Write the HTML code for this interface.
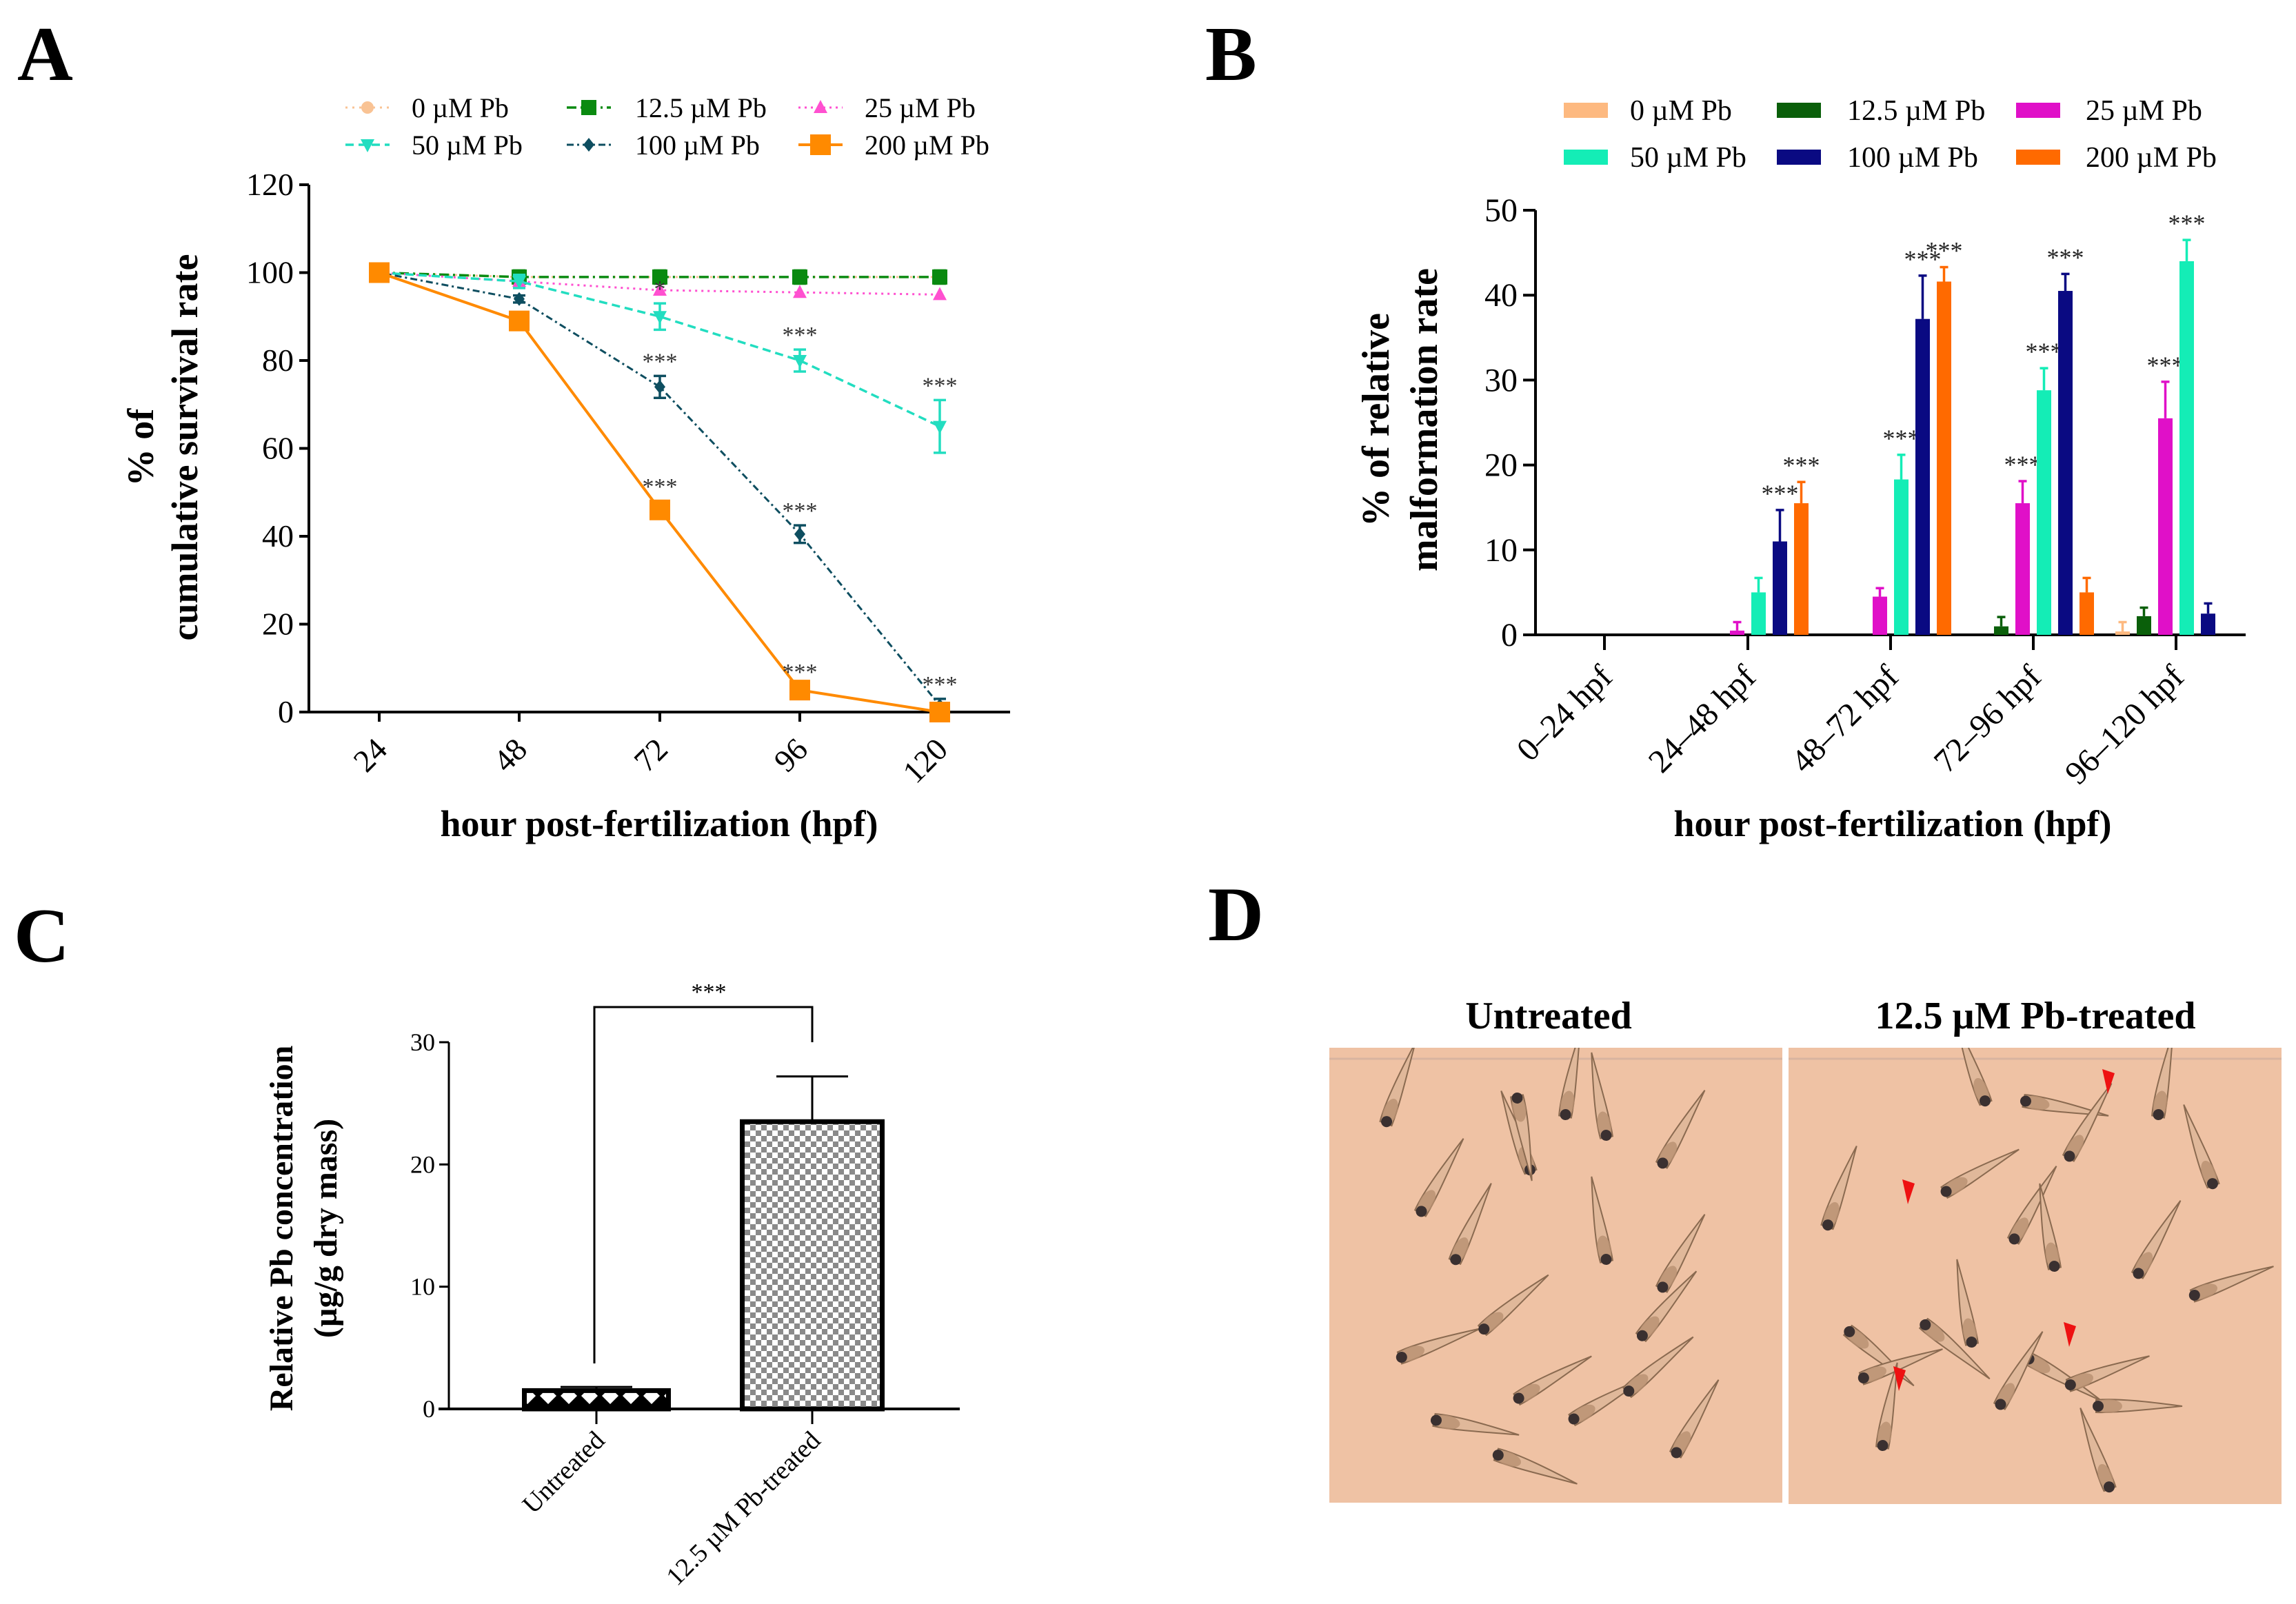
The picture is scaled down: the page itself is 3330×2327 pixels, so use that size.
<!DOCTYPE html>
<html><head><meta charset="utf-8"><style>
html,body{margin:0;padding:0;background:#fff}
svg{display:block}
text{font-family:"Liberation Serif",serif}
</style></head><body>
<svg id="fig" width="3330" height="2327" viewBox="0 0 3330 2327" xmlns="http://www.w3.org/2000/svg">
<defs>
<pattern id="diam" width="30" height="30" patternUnits="userSpaceOnUse"><rect width="30" height="30" fill="#000"/><path d="M15 3 L27 15 L15 27 L3 15Z" fill="#fff"/></pattern>
<pattern id="chk" width="16" height="16" patternUnits="userSpaceOnUse"><rect width="16" height="16" fill="#fff"/><rect width="8" height="8" fill="#8a8a8a"/><rect x="8" y="8" width="8" height="8" fill="#8a8a8a"/></pattern>
<clipPath id="clipL"><rect x="1928" y="1520" width="657" height="660"/></clipPath>
<clipPath id="clipR"><rect x="2594" y="1520" width="715" height="662"/></clipPath>
</defs>
<text x="25" y="116" font-size="112" font-weight="bold">A</text>
<text x="1748" y="116" font-size="112" font-weight="bold">B</text>
<text x="20" y="1395" font-size="112" font-weight="bold">C</text>
<text x="1752" y="1364" font-size="112" font-weight="bold">D</text>
<g id="pA"></g>
<g id="pB"></g>
<g id="pC"></g>
<g id="pD"></g>
</svg>
<script>
const NS="http://www.w3.org/2000/svg";
// ---- Panel A data
const hoursA=["24","48","72","96","120"];
const ticksA=[0,20,40,60,80,100,120];
const surv0=[100,99,99,99,99];
const surv12=[100,99,99,99,99];
const surv25=[100,98,96,95.5,95];
const surv50=[100,98,90,80,65];
const surv100=[100,94,74,40.5,1.5];
const surv200=[100,89,46,5,0];
const err50=[0,1.5,3,2.5,6];
const err100=[0,0.8,2.5,2,1.5];
const err200=[0,1.5,2,0.8,0.5];
const err12=[0,1.5,1.5,1.5,1.5];
const stars50=["","","*","***","***"];
const stars100=["","","***","***","***"];
const stars200=["","","***","***",""];
// ---- Panel B data
const groupsB=["0–24 hpf","24–48 hpf","48–72 hpf","72–96 hpf","96–120 hpf"];
const ticksB=[0,10,20,30,40,50];
const mal0=[0,0,0,0,0.4];
const mal12=[0,0,0,1,2.2];
const mal25=[0,0.5,4.5,15.5,25.5];
const mal50=[0,5,18.3,28.8,44];
const mal100=[0,11,37.2,40.5,2.5];
const mal200=[0,15.5,41.6,5,0];
const malErr0=[0,0,0,0,1.1];
const malErr12=[0,0,0,1.1,1];
const malErr25=[0,1,1,2.6,4.3];
const malErr50=[0,1.7,2.9,2.6,2.5];
const malErr100=[0,3.7,5.1,2,1.2];
const malErr200=[0,2.5,1.7,1.7,0];
const malStars=[[["","","","","",""]],[["","","","","***","***"]],[["","","","***","***","***"]],[["","","***","***","***",""]],[["","","***","***","",""]]];
// ---- Panel C data
const groupsC=["Untreated","12.5 µM Pb-treated"];
const ticksC=[0,10,20,30];
const conc=[1.5,23.5];
const concErr=[0.3,3.7];

function el(tag,attrs,parent,txt){const e=document.createElementNS(NS,tag);for(const k in attrs)e.setAttribute(k,attrs[k]);if(txt!==undefined)e.textContent=txt;parent.appendChild(e);return e;}

// ================= Panel A
(function(){
const g=document.getElementById('pA');
const x0=448,y0=1033,yTop=268,xEnd=1465;
const catX=[550,753,957,1160,1363];
const yA=v=>y0-v*(y0-yTop)/120;
const xA=i=>catX[i];
const ax=el('line',{x1:x0,y1:y0,x2:xEnd,y2:y0,stroke:'#000','stroke-width':4},g);

const ay=el('line',{x1:x0,y1:y0+2,x2:x0,y2:yTop,stroke:'#000','stroke-width':4},g);

ticksA.forEach(t=>{
 el('line',{x1:x0-14,y1:yA(t),x2:x0,y2:yA(t),stroke:'#000','stroke-width':4},g);
 const tl=el('text',{x:x0-22,y:yA(t)+15,'font-size':46,'text-anchor':'end'},g,String(t));
 
});
hoursA.forEach((h,i)=>{
 el('line',{x1:xA(i),y1:y0,x2:xA(i),y2:y0+14,stroke:'#000','stroke-width':4},g);
 const tl=el('text',{x:xA(i)+14,y:1090,'font-size':46,'text-anchor':'end',transform:`rotate(-45 ${xA(i)+14} 1090)`},g,h);
 
});
const xt=el('text',{x:956,y:1213,'font-size':54,'font-weight':'bold','text-anchor':'middle'},g,'hour post-fertilization (hpf)');

const yt=el('text',{transform:'translate(222 649) rotate(-90)','font-size':54,'font-weight':'bold','text-anchor':'middle'},g);

el('tspan',{x:0,y:0},yt,'% of');el('tspan',{x:0,y:64},yt,'cumulative survival rate');

const series=[
 {name:'0 µM Pb',vals:surv0,err:null,stars:null,color:'#F9C394',dash:'3 7',marker:'circle',w:3},
 {name:'12.5 µM Pb',vals:surv12,err:err12,stars:null,color:'#0A8A10',dash:'14 6 3 6',marker:'square',w:3.5},
 {name:'25 µM Pb',vals:surv25,err:null,stars:null,color:'#FF50D0',dash:'3 6',marker:'tri',w:3},
 {name:'50 µM Pb',vals:surv50,err:err50,stars:stars50,color:'#22DDC0',dash:'12 7',marker:'dtri',w:3.5},
 {name:'100 µM Pb',vals:surv100,err:err100,stars:stars100,color:'#0E4E60',dash:'10 5 3 5',marker:'diamond',w:3},
 {name:'200 µM Pb',vals:surv200,err:err200,stars:stars200,color:'#FF8A00',dash:'',marker:'bigsq',w:4}
];
function marker(par,type,x,y,c){
 let m;
 if(type==='circle')m=el('circle',{cx:x,cy:y,r:9,fill:c},par);
 else if(type==='square')m=el('rect',{x:x-11,y:y-11,width:22,height:22,fill:c},par);
 else if(type==='bigsq')m=el('rect',{x:x-15,y:y-15,width:30,height:30,fill:c},par);
 else if(type==='tri')m=el('path',{d:`M${x} ${y-11}L${x+10} ${y+8}L${x-10} ${y+8}Z`,fill:c},par);
 else if(type==='dtri')m=el('path',{d:`M${x} ${y+11}L${x+10} ${y-8}L${x-10} ${y-8}Z`,fill:c},par);
 else m=el('path',{d:`M${x} ${y-10}L${x+8} ${y}L${x} ${y+10}L${x-8} ${y}Z`,fill:c},par);
 return m;
}
series.forEach((s,si)=>{
 const sg=el('g',{},g);
 
 
 const pts=s.vals.map((v,i)=>xA(i)+','+yA(v)).join(' ');
 el('polyline',{points:pts,fill:'none',stroke:s.color,'stroke-width':s.w,'stroke-dasharray':s.dash},sg);
 s.vals.forEach((v,i)=>{
  if(s.err&&s.err[i]>0){
   const e=s.err[i];
   el('line',{x1:xA(i),y1:yA(v-e),x2:xA(i),y2:yA(v+e),stroke:s.color,'stroke-width':3.5},sg);
   el('line',{x1:xA(i)-9,y1:yA(v+e),x2:xA(i)+9,y2:yA(v+e),stroke:s.color,'stroke-width':3.5},sg);
   el('line',{x1:xA(i)-9,y1:yA(v-e),x2:xA(i)+9,y2:yA(v-e),stroke:s.color,'stroke-width':3.5},sg);
  }
  const m=marker(sg,s.marker,xA(i),yA(v),s.color);
  
  if(s.stars&&s.stars[i]){
   const e=s.err?s.err[i]:0;
   const st=el('text',{x:xA(i),y:yA(v+e)-10,'font-size':34,'text-anchor':'middle',fill:'#333'},sg,s.stars[i]);
   
  }
 });
 const col=si%3,row=Math.floor(si/3);
 const lx=[533,854,1190][col],ly=[156,210][row];
 const lg=el('g',{},g);
 
 el('line',{x1:lx-32,y1:ly,x2:lx+32,y2:ly,stroke:s.color,'stroke-width':s.w,'stroke-dasharray':s.dash},lg);
 marker(lg,s.marker,lx,ly,s.color);
 el('text',{x:[597,921,1254][col],y:ly+14,'font-size':40},lg,s.name);
});
})();

// ================= Panel B
(function(){
const g=document.getElementById('pB');
const x0=2227,y0=921,yTop=305,xEnd=3257;
const catX=[2327,2535,2742,2949,3156];
const yB=v=>y0-v*(y0-yTop)/50;
const xB=i=>catX[i];
el('line',{x1:x0,y1:y0,x2:xEnd,y2:y0,stroke:'#000','stroke-width':4},g);
el('line',{x1:x0,y1:y0+2,x2:x0,y2:yTop,stroke:'#000','stroke-width':4},g);
ticksB.forEach(t=>{
 el('line',{x1:x0-18,y1:yB(t),x2:x0,y2:yB(t),stroke:'#000','stroke-width':4},g);
 const tl=el('text',{x:x0-26,y:yB(t)+16,'font-size':48,'text-anchor':'end'},g,String(t));
 
});
groupsB.forEach((h,i)=>{
 el('line',{x1:xB(i),y1:y0,x2:xB(i),y2:y0+22,stroke:'#000','stroke-width':4},g);
 const tl=el('text',{x:xB(i)+14,y:985,'font-size':48,'text-anchor':'end',transform:`rotate(-45 ${xB(i)+14} 985)`},g,h);
 
});
const xt=el('text',{x:2745,y:1213,'font-size':54,'font-weight':'bold','text-anchor':'middle'},g,'hour post-fertilization (hpf)');

const yt=el('text',{transform:'translate(2014 609) rotate(-90)','font-size':56,'font-weight':'bold','text-anchor':'middle'},g);

el('tspan',{x:0,y:0},yt,'% of relative');el('tspan',{x:0,y:70},yt,'malformation rate');
const names=['0 µM Pb','12.5 µM Pb','25 µM Pb','50 µM Pb','100 µM Pb','200 µM Pb'];
const colors=['#FDB980','#0A5F0A','#E010C8','#14EDB6','#0A0A82','#FF6A00'];
const vals=[mal0,mal12,mal25,mal50,mal100,mal200];
const errs=[malErr0,malErr12,malErr25,malErr50,malErr100,malErr200];
const bw=21,sp=31;
vals.forEach((arr,si)=>{
 arr.forEach((v,i)=>{
  const cx=xB(i)+(si-2.5)*sp;
  if(v>0){
   const e=errs[si][i];
   el('line',{x1:cx,y1:yB(v),x2:cx,y2:yB(v+e),stroke:colors[si],'stroke-width':3.5},g);
   el('line',{x1:cx-6,y1:yB(v+e),x2:cx+6,y2:yB(v+e),stroke:colors[si],'stroke-width':3.5},g);
   const b=el('rect',{x:cx-bw/2,y:yB(v),width:bw,height:y0-yB(v),fill:colors[si]},g);
   
   const s=malStars[i][0][si];
   if(s){
    const st=el('text',{x:cx,y:yB(v+e)-12,'font-size':36,'text-anchor':'middle',fill:'#222'},g,s);
    
   }
  }
 });
 const col=si%3,row=Math.floor(si/3);
 const lx=[2268,2577,2924][col],ly=[160,228][row];
 const lg=el('g',{},g);
 
 el('rect',{x:lx,y:ly-11,width:64,height:22,fill:colors[si]},lg);
 el('text',{x:[2364,2679,3025][col],y:ly+14,'font-size':42},lg,names[si]);
});
})();

// ================= Panel C
(function(){
const g=document.getElementById('pC');
const x0=651,y0=2044,yTop=1512,xEnd=1392;
const catX=[865,1178];
const yC=v=>y0-v*(y0-yTop)/30;
el('line',{x1:x0-15,y1:y0,x2:xEnd,y2:y0,stroke:'#000','stroke-width':4},g);
el('line',{x1:x0,y1:y0,x2:x0,y2:yTop,stroke:'#000','stroke-width':3},g);
ticksC.forEach(t=>{
 el('line',{x1:x0-14,y1:yC(t),x2:x0,y2:yC(t),stroke:'#000','stroke-width':3},g);
 const tl=el('text',{x:x0-20,y:yC(t)+12,'font-size':36,'text-anchor':'end'},g,String(t));
 
});
const fills=['url(#diam)','url(#chk)'];
const bw=[209,203];
conc.forEach((v,i)=>{
 const cx=catX[i];
 const e=concErr[i];
 el('line',{x1:cx,y1:yC(v),x2:cx,y2:yC(v+e),stroke:'#000','stroke-width':3},g);
 el('line',{x1:cx-52,y1:yC(v+e),x2:cx+52,y2:yC(v+e),stroke:'#000','stroke-width':3},g);
 const b=el('rect',{x:cx-bw[i]/2,y:yC(v),width:bw[i],height:y0-yC(v),fill:fills[i],stroke:'#000','stroke-width':7},g);
 
 el('line',{x1:cx,y1:y0,x2:cx,y2:y0+22,stroke:'#000','stroke-width':3},g);
 const tl=el('text',{x:cx+14,y:2092,'font-size':38,'text-anchor':'end',transform:`rotate(-45 ${cx+14} 2092)`},g,groupsC[i]);
 
});
const br=el('path',{d:`M862 1978 L862 1461 L1178 1461 L1178 1512`,fill:'none',stroke:'#000','stroke-width':3},g);

const st=el('text',{x:1028,y:1450,'font-size':34,'text-anchor':'middle'},g,'***');

const yt=el('text',{transform:'translate(424 1782) rotate(-90)','font-size':48,'font-weight':'bold','text-anchor':'middle'},g);

el('tspan',{x:0,y:0},yt,'Relative Pb concentration');el('tspan',{x:0,y:64},yt,'(µg/g dry mass)');
})();

// ================= Panel D
(function(){
const g=document.getElementById('pD');
const t1=el('text',{x:2246,y:1492,'font-size':56,'font-weight':'bold','text-anchor':'middle'},g,'Untreated');

const t2=el('text',{x:2952,y:1492,'font-size':56,'font-weight':'bold','text-anchor':'middle'},g,'12.5 µM Pb-treated');

const p1=el('rect',{x:1928,y:1520,width:657,height:660,fill:'#EFC2A4'},g);

const p2=el('rect',{x:2594,y:1520,width:715,height:662,fill:'#EFC2A4'},g);

el('line',{x1:1928,y1:1536,x2:2585,y2:1536,stroke:'#d8b4a0','stroke-width':3},g);
el('line',{x1:2594,y1:1536,x2:3309,y2:1536,stroke:'#d8b4a0','stroke-width':3},g);
const gl=el('g',{'clip-path':'url(#clipL)'},g);
const gr=el('g',{'clip-path':'url(#clipR)'},g);
function fish(par,x,y,ang){
 const f=el('g',{transform:`translate(${x} ${y}) rotate(${ang})`},par);
 
 el('path',{d:'M0 -9 C30 -12 80 -6 125 0 C80 4 30 10 0 9Z',fill:'#e0b89a',stroke:'#8a6a50','stroke-width':2},f);
 el('ellipse',{cx:18,cy:0,rx:20,ry:10,fill:'#b89070',opacity:0.8},f);
 el('circle',{cx:3,cy:0,r:8,fill:'#3a3030'},f);
}
const L=[[2010,1630,-70],[2110,1830,-65],[2030,1970,-20],[2220,1700,-110],[2270,1620,-80],[2330,1650,-100],[2410,1690,-60],[2330,1830,-100],[2410,1870,-60],[2380,1940,-50],[2200,2030,-30],[2280,2060,-30],[2360,2020,-40],[2080,2060,10],[2430,2110,-60],[2170,2110,20],[2060,1760,-60],[2150,1930,-40],[2200,1590,80]];
const R=[[2880,1600,-110],[2935,1597,10],[2650,1780,-70],[2820,1730,-30],[2920,1800,-60],[2980,1840,-100],[3000,1680,-60],[3130,1620,-80],[3100,1850,-60],[3180,1880,-20],[2680,1930,40],[2790,1920,40],[2860,1950,-100],[2940,1970,30],[2700,2000,-20],[2900,2040,-60],[3000,2010,-20],[3040,2040,0],[2730,2100,-80],[3060,2160,-110],[3210,1720,-110]];
L.forEach(a=>fish(gl,a[0],a[1],a[2]));R.forEach(a=>fish(gr,a[0],a[1],a[2]));
const arrows=[[3057,1565],[2767,1725],[3001,1932],[2754,1996]];
arrows.forEach(a=>{
 const ar=el('path',{d:`M${a[0]} ${a[1]+22} L${a[0]-8} ${a[1]-14} L${a[0]+10} ${a[1]-8}Z`,fill:'#ee1111'},g);
 
});
})();
</script>
</body></html>
